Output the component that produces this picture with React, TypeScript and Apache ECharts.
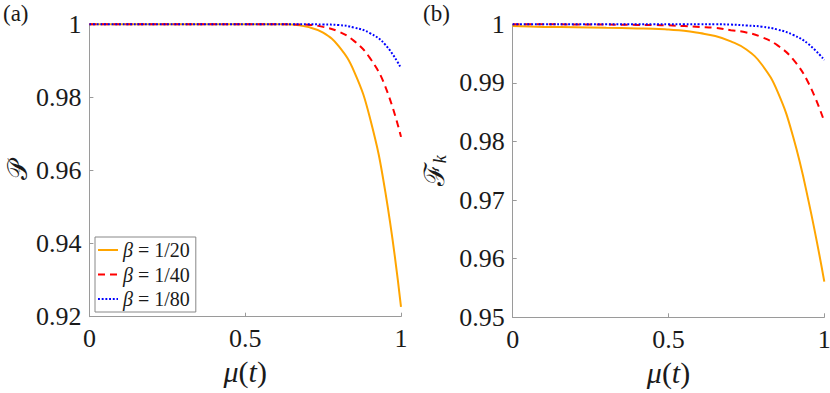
import React, { useEffect, useRef } from "react";
import * as echarts from "echarts";

// Shared x grid, μ(t)
const mu = [0, 0.1, 0.2, 0.3, 0.4, 0.45, 0.5, 0.55, 0.6, 0.65, 0.7, 0.75, 0.8, 0.85, 0.9, 0.95, 1];

// Panel (a): P
const p20 = [1, 1, 1, 1, 1, 1, 1, 1, 0.99999, 0.99995, 0.9993, 0.9977, 0.994, 0.987, 0.9745, 0.954, 0.9227];
const p40 = [1, 1, 1, 1, 1, 1, 1, 1, 1, 0.99998, 0.9999, 0.9993, 0.998, 0.9954, 0.9908, 0.9829, 0.9692];
const p80 = [1, 1, 1, 1, 1, 1, 1, 1, 1, 1, 1, 0.99995, 0.9998, 0.9991, 0.9976, 0.9944, 0.988];

// Panel (b): F_k
const f20 = [0.9997, 0.99955, 0.9995, 0.9994, 0.9993, 0.99925, 0.9991, 0.9989, 0.9985, 0.998, 0.9971, 0.9957, 0.9931, 0.9885, 0.9808, 0.9697, 0.9561];
const f40 = [1, 1, 0.99998, 0.99995, 0.9999, 0.99988, 0.99982, 0.9997, 0.99955, 0.9994, 0.999, 0.9986, 0.9978, 0.9964, 0.994, 0.9899, 0.9834];
const f80 = [1, 1, 1, 1, 1, 1, 1, 1, 1, 1, 0.99995, 0.9998, 0.9996, 0.9991, 0.9982, 0.9966, 0.9939];

const seriesNames = ["β = 1/20", "β = 1/40", "β = 1/80"];
const xTicks = { min: 0, max: 1, interval: 0.5 };
const yTicksA = { min: 0.92, max: 1, interval: 0.02 };
const yTicksB = { min: 0.95, max: 1, interval: 0.01 };

const FONT = "Liberation Serif";
const MATHFONT = "DejaVu Serif";
const AXIS_GREY = "#9a9a9a";
const TXT = "#1a1a1a";

const styles = [
  { color: "#FFA500", type: "solid" as const, width: 2 },
  { color: "#FF0000", type: [7, 5] as any, width: 2 },
  { color: "#0000FF", type: [1.9, 1.8] as any, width: 2 },
];

function zip(xs: number[], ys: number[]) {
  return xs.map((x, i) => [x, ys[i]]);
}

export default function App() {
  const ref = useRef<HTMLDivElement>(null);
  useEffect(() => {
    if (!ref.current) return;
    const chart = echarts.init(ref.current, undefined, { renderer: "svg" });

    const xAxisBase = (gridIndex: number) => ({
      type: "value" as const,
      gridIndex,
      ...xTicks,
      axisLine: { show: true, lineStyle: { color: AXIS_GREY, width: 1 } },
      axisTick: { show: true, inside: true, length: 4, lineStyle: { color: AXIS_GREY } },
      splitLine: { show: false },
      axisLabel: { color: TXT, fontFamily: FONT, fontSize: 26, margin: 9 },
      name: "{i|μ}{n|(}{i|t}{n|)}",
      nameLocation: "middle" as const,
      nameGap: 40,
      nameTextStyle: {
        color: TXT,
        fontFamily: FONT,
        fontSize: 30,
        rich: {
          i: { fontStyle: "italic", fontFamily: FONT, fontSize: 30, color: TXT },
          n: { fontFamily: FONT, fontSize: 30, color: TXT },
        },
      },
    });

    const yAxisBase = (gridIndex: number, t: any, name: string, nameGap: number, rich: any) => ({
      type: "value" as const,
      gridIndex,
      ...t,
      axisLine: { show: true, lineStyle: { color: AXIS_GREY, width: 1 } },
      axisTick: { show: true, inside: true, length: 4, lineStyle: { color: AXIS_GREY } },
      splitLine: { show: false },
      axisLabel: { color: TXT, fontFamily: FONT, fontSize: 26, margin: 8 },
      name,
      nameLocation: "middle" as const,
      nameGap,
      nameTextStyle: { color: TXT, fontFamily: MATHFONT, fontSize: 28, rich },
    });

    const mk = (name: string, data: number[], idx: number, s: any) => ({
      type: "line" as const,
      name,
      xAxisIndex: idx,
      yAxisIndex: idx,
      data: zip(mu, data),
      showSymbol: false,
      symbol: "none",
      smooth: 0.45,
      clip: false,
      lineStyle: { color: s.color, width: s.width, type: s.type },
      itemStyle: { color: s.color },
      z: 2,
    });

    chart.setOption({
      animation: false,
      backgroundColor: "#fff",
      grid: [
        { left: 89.4, top: 24.3, width: 311.6, height: 292.4, containLabel: false, outerBoundsMode: "none" },
        { left: 512.7, top: 24.3, width: 311.6, height: 293, containLabel: false, outerBoundsMode: "none" },
      ],
      xAxis: [xAxisBase(0), xAxisBase(1)],
      yAxis: [
        yAxisBase(0, yTicksA, "{P|𝒫}", 58, { P: { fontFamily: MATHFONT, fontSize: 27, color: TXT } }),
        yAxisBase(1, yTicksB, "{F|ℱ}{k|k}", 64, {
          F: { fontFamily: MATHFONT, fontSize: 28, color: TXT },
          k: { fontFamily: FONT, fontStyle: "italic", fontSize: 18, color: TXT, verticalAlign: "bottom", padding: [10, 0, 0, 0] },
        }),
      ],
      legend: {
        left: 95,
        top: 237,
        orient: "vertical",
        data: seriesNames,
        itemWidth: 20,
        itemHeight: 20,
        itemGap: 4.5,
        padding: [3, 6, 3, 2],
        borderColor: "#888",
        borderWidth: 1,
        borderRadius: 0,
        backgroundColor: "#fff",
        selectedMode: false,
        itemStyle: { opacity: 0 },
        textStyle: {
          fontFamily: FONT,
          fontSize: 20,
          color: TXT,
          rich: {
            i: { fontFamily: FONT, fontStyle: "italic", fontSize: 20, color: TXT },
            n: { fontFamily: FONT, fontSize: 20, color: TXT },
          },
        },
        formatter: (name: string) => "{i|β}{n|" + name.slice(1) + "}",
      },
      graphic: [
        { type: "text", left: 3, top: 2, style: { text: "(a)", fontFamily: FONT, fontSize: 23, fill: TXT } },
        { type: "text", left: 423, top: 2, style: { text: "(b)", fontFamily: FONT, fontSize: 23, fill: TXT } },
      ],
      series: [
        mk(seriesNames[0], p20, 0, styles[0]),
        mk(seriesNames[1], p40, 0, styles[1]),
        mk(seriesNames[2], p80, 0, styles[2]),
        mk(seriesNames[0], f20, 1, styles[0]),
        mk(seriesNames[1], f40, 1, styles[1]),
        mk(seriesNames[2], f80, 1, styles[2]),
      ],
    });
    return () => chart.dispose();
  }, []);
  return <div ref={ref} style={{ position: "fixed", left: 0, top: 0, width: 830, height: 393 }} />;
}
